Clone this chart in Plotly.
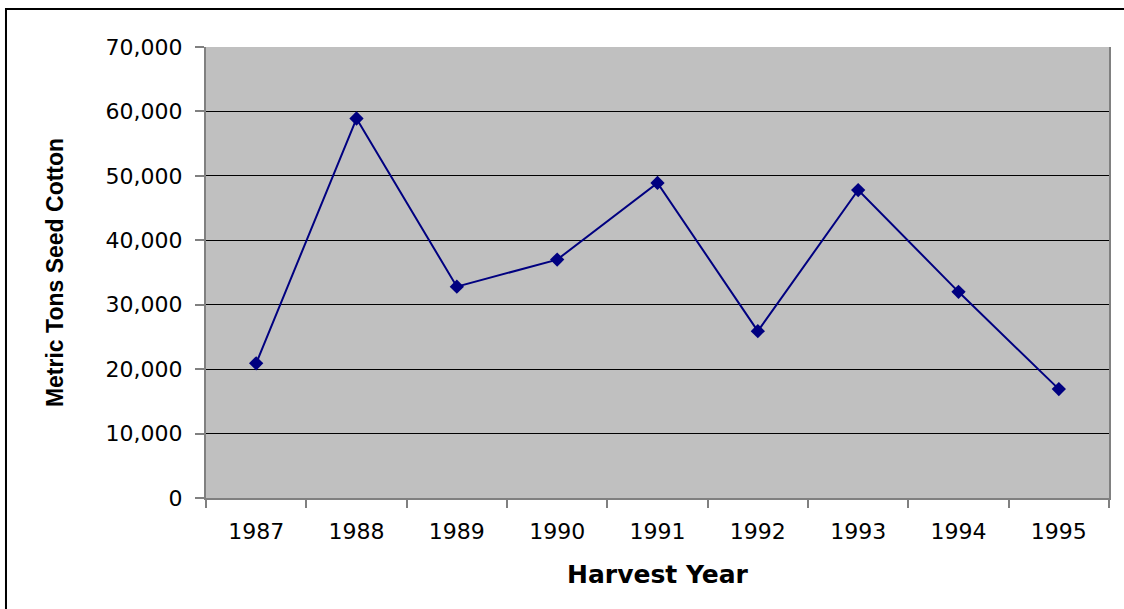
import plotly.graph_objects as go

# Seed cotton harvest by year (metric tons)
years = ["1987", "1988", "1989", "1990", "1991", "1992", "1993", "1994", "1995"]
tons = [20900, 58900, 32800, 37000, 48900, 25900, 47800, 32000, 16900]

y_ticks = [0, 10000, 20000, 30000, 40000, 50000, 60000, 70000]

fig = go.Figure()
fig.add_trace(go.Scatter(
    x=years, y=tons, mode="lines+markers",
    line=dict(color="#000080", width=2),
    marker=dict(symbol="diamond", size=11, color="#000080"),
    showlegend=False,
))

# outer chart frame (only left/top visible in the original)
fig.add_shape(type="rect", xref="paper", yref="paper",
              x0=-0.2215, x1=1.03, y0=-0.27, y1=1.0843,
              line=dict(color="black", width=2), layer="below")

fig.update_layout(
    width=1124, height=609,
    margin=dict(l=206, r=15, t=47, b=111),
    paper_bgcolor="white",
    plot_bgcolor="#C0C0C0",
    font=dict(family="DejaVu Sans, Arial, sans-serif", color="black"),
)
fig.update_xaxes(
    type="category", range=[-0.5, 8.5],
    tickson="boundaries", ticks="outside", ticklen=8, tickcolor="#808080", tickwidth=2,
    showline=True, linecolor="#808080", linewidth=2, mirror=False,
    showgrid=False,
    tickfont=dict(size=22), ticklabelstandoff=13,
    title=dict(text="<b>Harvest Year</b>", font=dict(size=25), standoff=22),
)
fig.update_yaxes(
    range=[0, 70000], tickvals=y_ticks, tickformat=",",
    ticks="outside", ticklen=9, tickcolor="#808080", tickwidth=2,
    showline=True, linecolor="#808080", linewidth=2, mirror=True,
    showgrid=True, gridcolor="black", gridwidth=1,
    zeroline=False,
    tickfont=dict(size=22), ticklabelstandoff=8,
    title=dict(text="<b>Metric Tons Seed Cotton</b>",
               font=dict(size=23, family="Liberation Sans, Arial, sans-serif"), standoff=36),
)

fig.write_html("out.html", config={"displayModeBar": False},
               post_script="document.body.style.margin='0px';")
